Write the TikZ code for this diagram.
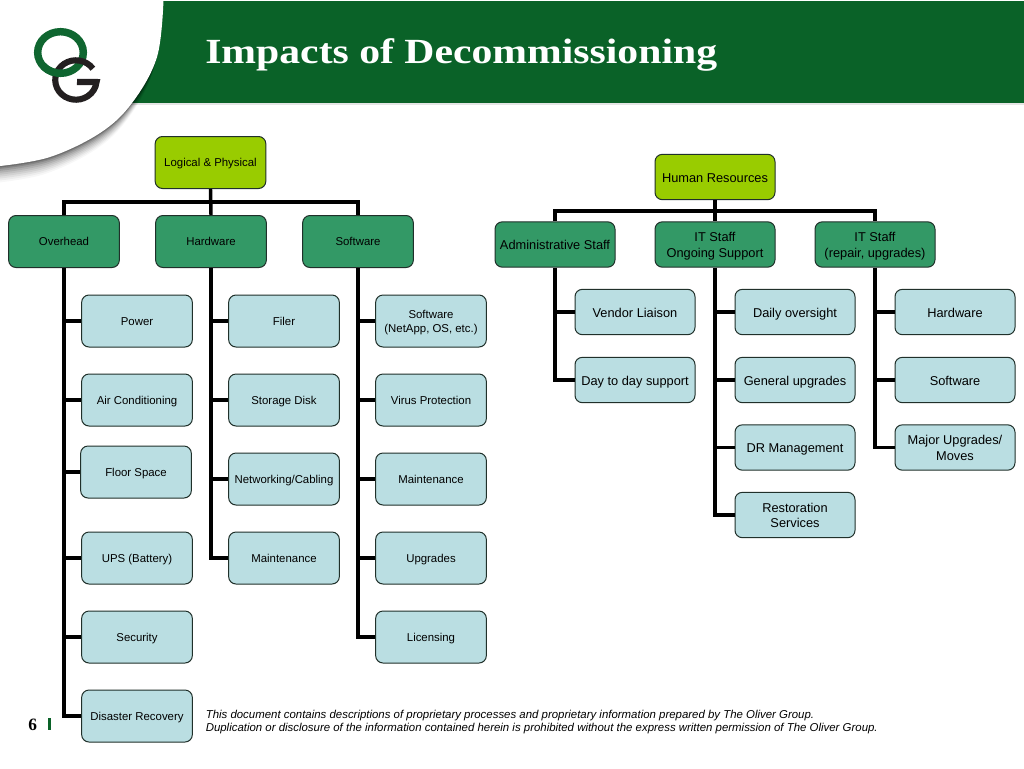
\documentclass[tikz,border=0pt]{standalone}
\usepackage{fontspec}
\setmainfont{Liberation Sans}
\newfontfamily\serifbold{Liberation Serif}
\newfontfamily\titlefont[FakeStretch=1.18]{Liberation Serif}
\usetikzlibrary{calc}
\definecolor{hdr}{HTML}{0A6228}
\definecolor{lime}{HTML}{99CC00}
\definecolor{midgreen}{HTML}{339966}
\definecolor{pale}{HTML}{BADEE2}
\definecolor{edgecol}{HTML}{20302A}
\definecolor{logogreen}{HTML}{0F6630}
\definecolor{logoblack}{HTML}{231F20}
\newcommand{\swoosh}{(0,0) -- (163.5,0) -- plot[smooth,tension=0.6] coordinates {(163.5,0) (157,57) (132,103) (100,133) (50,157) (0,166)} -- cycle}
\tikzset{
  x=0.75pt,y=-0.75pt,
  basebox/.style={draw=edgecol,line width=0.75pt,rounded corners=5.5pt,align=center,inner sep=0pt,text=black},
  lsize/.style={minimum width=83pt,minimum height=39pt,text height=6.4pt,text depth=0pt,font=\fontsize{8.55}{10.5}\selectfont},
  rsize/.style={minimum width=90pt,minimum height=34pt,text height=7.6pt,text depth=0pt,font=\fontsize{9.6}{11.7}\selectfont},
  ltwo/.style={text height=17pt},
  rtwo/.style={text height=19.4pt},
  rootbox/.style={basebox,fill=lime},
  midbox/.style={basebox,fill=midgreen},
  leafbox/.style={basebox,fill=pale},
  conn/.style={draw=black,line width=2.6pt,line join=miter},
}
\begin{document}
\begin{tikzpicture}
\useasboundingbox (0,0) rectangle (1024,768);
\fill[white] (0,0) rectangle (1024,768);
% header band
\fill[black!10] (120,103) rectangle (1024,105);
\fill[hdr] (120,1) rectangle (1024,103);
% swoosh shadow
\foreach \d/\o in {17/0.03,15/0.04,13/0.05,11/0.06,9/0.07,7/0.09,5/0.11,3/0.14,1.5/0.18}{
  \fill[black,opacity=\o,xshift=-0.3*\d*0.75pt,yshift=-\d*0.75pt] \swoosh;
}
\fill[white] \swoosh;
% logo
\draw[logogreen,line width=5.6pt] (60.5,52.5) ellipse (22.8 and 20.8);
\draw[logoblack,line width=4.6pt] (92.9,68.7) arc[start angle=-35,end angle=-354,x radius=20.7,y radius=19.7] -- (77,82);
\draw[logogreen,line width=5.6pt] (62.5,73.2) arc[start angle=85,end angle=140,x radius=22.8,y radius=20.8];
% title
\node[anchor=base west,inner sep=0pt,text=white] (title) at (205,63.5) {\titlefont\bfseries\fontsize{26.5}{30}\selectfont Impacts of Decommissioning};
% left tree
\node[rootbox,lsize] (logical) at (210.5,162.5) {Logical \& Physical};
\node[midbox,lsize] (overhead) at (64,241.5) {Overhead};
\node[midbox,lsize] (hardware) at (211,241.5) {Hardware};
\node[midbox,lsize] (software) at (358,241.5) {Software};
\node[leafbox,lsize] (power) at (137,321) {Power};
\node[leafbox,lsize] (aircon) at (137,400) {Air Conditioning};
\node[leafbox,lsize] (floor) at (136,472) {Floor Space};
\node[leafbox,lsize] (ups) at (137,558) {UPS (Battery)};
\node[leafbox,lsize] (security) at (137,637) {Security};
\node[leafbox,lsize] (disaster) at (137,716) {Disaster Recovery};
\node[leafbox,lsize] (filer) at (284,321) {Filer};
\node[leafbox,lsize] (storage) at (284,400) {Storage Disk};
\node[leafbox,lsize] (network) at (284,479) {Networking/Cabling};
\node[leafbox,lsize] (hwmaint) at (284,558) {Maintenance};
\node[leafbox,lsize,ltwo] (swnetapp) at (431,321) {Software\\(NetApp, OS, etc.)};
\node[leafbox,lsize] (virus) at (431,400) {Virus Protection};
\node[leafbox,lsize] (swmaint) at (431,479) {Maintenance};
\node[leafbox,lsize] (upgrades) at (431,558) {Upgrades};
\node[leafbox,lsize] (licensing) at (431,637) {Licensing};
% right tree
\node[rootbox,rsize] (hr) at (715,177) {Human Resources};
\node[midbox,rsize] (admin) at (555,244.5) {Administrative Staff};
\node[midbox,rsize,rtwo] (itsup) at (715,244.5) {IT Staff\\Ongoing Support};
\node[midbox,rsize,rtwo] (itrep) at (875,244.5) {IT Staff\\(repair, upgrades)};
\node[leafbox,rsize] (vendor) at (635,312) {Vendor Liaison};
\node[leafbox,rsize] (daytoday) at (635,380) {Day to day support};
\node[leafbox,rsize] (daily) at (795,312) {Daily oversight};
\node[leafbox,rsize] (general) at (795,380) {General upgrades};
\node[leafbox,rsize] (dr) at (795,447.5) {DR Management};
\node[leafbox,rsize,rtwo] (restore) at (795,515) {Restoration\\Services};
\node[leafbox,rsize] (hwleaf) at (955,312) {Hardware};
\node[leafbox,rsize] (swleaf) at (955,380) {Software};
\node[leafbox,rsize,rtwo] (major) at (955,447.5) {Major Upgrades/\\Moves};
% buses
\coordinate (busL) at (210.5,202);
\coordinate (busR) at (715,211);
\draw[conn] (overhead.north) |- (busL) -| (software.north);
\draw[conn] (logical.south) -- (hardware.north);
\draw[conn] (admin.north) |- (busR) -| (itrep.north);
\draw[conn] (hr.south) -- (itsup.north);
\draw[conn] (overhead.south) |- (disaster.west);
\foreach \c in {power,aircon,floor,ups,security} \draw[conn] (overhead.south |- \c.west) -- (\c.west);
\draw[conn] (hardware.south) |- (hwmaint.west);
\foreach \c in {filer,storage,network} \draw[conn] (hardware.south |- \c.west) -- (\c.west);
\draw[conn] (software.south) |- (licensing.west);
\foreach \c in {swnetapp,virus,swmaint,upgrades} \draw[conn] (software.south |- \c.west) -- (\c.west);
\draw[conn] (admin.south) |- (daytoday.west);
\draw[conn] (admin.south |- vendor.west) -- (vendor.west);
\draw[conn] (itsup.south) |- (restore.west);
\foreach \c in {daily,general,dr} \draw[conn] (itsup.south |- \c.west) -- (\c.west);
\draw[conn] (itrep.south) |- (major.west);
\foreach \c in {hwleaf,swleaf} \draw[conn] (itrep.south |- \c.west) -- (\c.west);
% footer
\node[anchor=base west,inner sep=0pt,font=\serifbold\bfseries\fontsize{13}{14}\selectfont] (pagenum) at (28,730) {6};
\fill[hdr] (48,718) rectangle (50.5,730);
\node[anchor=north west,inner sep=0pt,align=left,font=\itshape\fontsize{8.57}{10}\selectfont] (legal) at (205.5,710) {This document contains descriptions of proprietary processes and proprietary information prepared by The Oliver Group.\\Duplication or disclosure of the information contained herein is prohibited without the express written permission of The Oliver Group.};
\end{tikzpicture}
\end{document}
